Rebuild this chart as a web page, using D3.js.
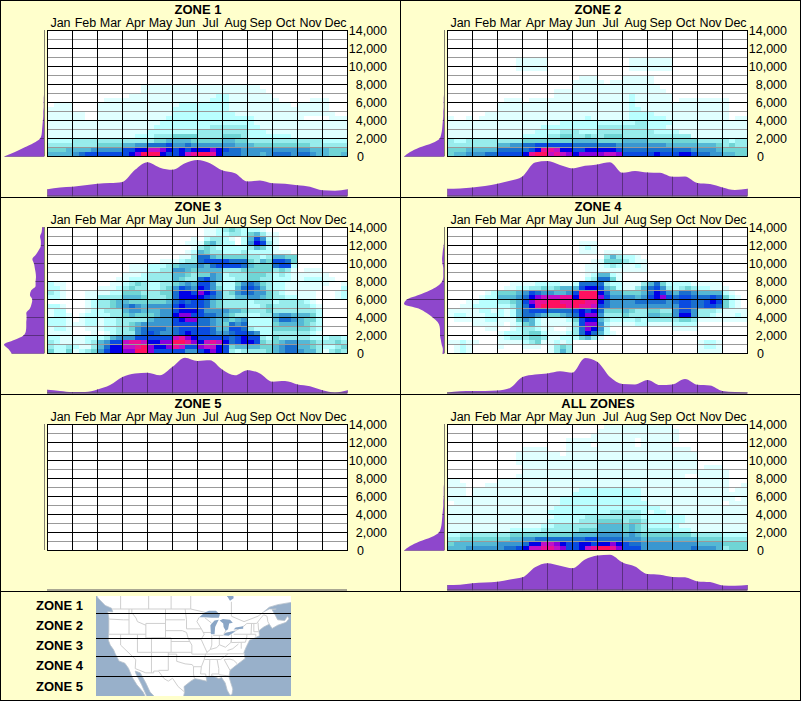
<!DOCTYPE html>
<html><head><meta charset="utf-8">
<script src="https://cdn.jsdelivr.net/npm/d3@7"></script>
<style>html,body{margin:0;padding:0;background:#ffffcc}svg{display:block}text{font-family:"Liberation Sans",Arial,sans-serif;fill:#000}</style>
</head><body><svg id="c" width="801" height="701"></svg>
<script>
// ---------- data ----------
const months = ["Jan","Feb","Mar","Apr","May","Jun","Jul","Aug","Sep","Oct","Nov","Dec"];
const elevTicks = [0,2000,4000,6000,8000,10000,12000,14000];
const zoneNames = ["ZONE 1","ZONE 2","ZONE 3","ZONE 4","ZONE 5","ALL ZONES"];
const legendNames = ["ZONE 1","ZONE 2","ZONE 3","ZONE 4","ZONE 5"];
const zoneLats = [47.8,41.1,35.9,30.3];
// density level per cell: rows from 14,000 ft down to 0, four columns per month
const levelColors = ["#ffffff","#e0ffff","#b9ffff","#98ecec","#70d5d5","#55b8d5","#3a97d0","#1a6fce","#0a4be0","#0000e6","#8a00dc","#c010c8","#e81098","#ff1060"];
const levelKeys = "0123456789abcd".split("");
const zone1Rows = ["","","","","","","","","","","","",
"0000 0000 0000 0001 1111 1111 1111 1111 1100 0000 0000 0000",
"0000 0000 0000 0001 1111 1111 1111 1111 1110 0000 0000 0000",
"0000 0000 0000 0111 1111 1111 1112 2111 1111 0000 0000 0000",
"0000 0000 0111 1111 1111 1111 1122 2111 1111 1000 0011 1000",
"0111 0000 1111 1111 1111 1222 2222 2111 1111 1110 1111 1000",
"1111 0000 1111 1111 1111 2222 2222 2111 1111 1111 1111 1000",
"1111 1100 1111 1111 1111 2222 2222 2211 1111 1111 1111 1100",
"1111 1100 1111 1111 1112 2222 2222 2222 2111 1111 1000 0111",
"1111 1111 1111 1111 1122 2222 2222 2222 2111 1111 1111 1111",
"1111 1111 1111 1111 1222 2222 2233 3333 2211 1111 1111 1111",
"1111 1111 1111 1111 2222 2222 3333 3333 2221 1111 1111 1111",
"1111 1111 1111 1122 2333 4444 3333 4443 2222 2221 1111 1111",
"2222 3333 3333 3333 3445 5554 4444 5544 3333 3333 3333 2222",
"3333 3333 4444 5566 7778 6676 6666 6655 5444 4444 4433 3333",
"4445 5556 6666 8899 bba9 8989 99a9 8776 6666 6666 6655 5444",
"5555 6788 8888 89ad dd98 89bc ddc9 7776 6656 7776 7765 5445"];
const zone2Rows = ["","","","","","",
"0000 0000 0001 1111 0000 0000 0000 0111 1111 0000 0000 0000",
"0000 0000 0001 1111 0000 0000 0000 0111 1111 0000 0000 0000",
"0000 0000 0001 1111 0000 0000 0000 0111 1111 0000 0000 0000",
"",
"0000 0000 0000 0000 0000 0111 0000 1111 1000 0000 0000 0000",
"0000 0000 0000 0000 0000 1111 1011 1111 1000 0000 0000 0000",
"0000 0000 0000 0000 0000 1111 1111 1111 1100 0000 0000 0000",
"0000 0000 0000 0000 0111 1111 1111 1111 1110 0000 0000 0000",
"0000 0000 0000 0000 0111 1111 1111 1211 1111 0000 0000 0000",
"0000 0000 0111 0111 1111 1111 1111 1211 1111 0111 1111 1000",
"0000 0000 1111 1111 1111 1111 1111 1211 1111 1111 1111 1000",
"0000 0000 1111 1111 1111 1111 1111 1221 1111 1111 1111 1000",
"0000 0011 1111 1111 1111 1111 1111 1222 2111 1111 1111 1000",
"1001 0111 1111 1111 1111 1121 1111 1222 2221 1111 1111 1011",
"1111 1111 1111 1111 1122 2222 2222 2233 2222 1111 1111 1111",
"1111 1111 1111 1112 2222 2222 3333 3333 2221 1111 1111 1111",
"1111 1111 1111 1122 2233 3222 3333 3333 3222 2111 1111 1111",
"1111 1111 1111 2222 3344 3343 3444 3333 3333 3331 1111 1111",
"3223 3333 3333 4444 4444 5555 4444 5555 4444 4444 3333 3233",
"3333 3333 5566 7788 8888 7777 7776 6666 6665 5555 5554 3433",
"4445 5555 7777 789c cb99 8899 9998 7777 7777 7776 6665 4444",
"4556 6677 8888 9cdd bcba 9aaa abba 8888 8988 8998 7766 5544"];
const zone3Rows = [
"0000 0000 0000 0000 0000 0000 0112 3432 2210 0000 0000 0000",
"0000 0000 0000 0000 0000 0000 0112 2332 4531 1000 0000 0000",
"0000 0000 0000 0000 0000 0001 0233 2102 5862 1000 0000 0000",
"0000 0000 0000 0000 0000 0011 1453 2202 6983 1000 0000 0000",
"0000 0000 0000 0000 0000 0001 3432 2222 3542 1000 0000 0000",
"0000 0000 0000 0000 0000 0012 5433 2223 2222 1110 0000 0000",
"0000 0000 0000 0000 0000 0113 7754 4444 3323 5544 0000 0000",
"0000 0000 0000 0000 0011 1233 7888 8777 4354 8874 0000 0000",
"0000 0000 0000 0111 2223 4555 6578 8887 5444 7882 0000 0000",
"0000 0000 0000 0111 2233 6654 5555 3334 4444 3431 0111 0000",
"0000 0000 0000 1112 3333 5543 4465 2333 4443 2321 1111 1000",
"0000 0000 0001 1222 3333 5433 7865 2233 4433 2221 1222 1100",
"2110 0000 0011 2343 2233 4565 8863 2246 7643 2211 1111 1001",
"2210 0000 1112 3433 2234 6876 9864 2257 8753 2211 1111 0002",
"3210 0011 1122 4443 3344 7998 a986 3467 7664 3211 1110 0012",
"2210 0011 3333 5554 3334 7999 9876 3355 6654 3322 1110 0012",
"0000 0012 3345 5444 4445 7878 8754 3333 2333 2333 3210 0000",
"2210 0012 3345 6765 6666 8988 8754 3333 2234 3333 3321 0000",
"1220 0012 2333 5665 5566 8999 8666 6554 3334 3333 3332 0000",
"1221 0122 2233 4544 4566 9aa8 8776 5433 2233 5665 5542 0000",
"2221 0122 1223 3333 5666 89aa 7765 5456 2222 5776 5442 0000",
"2221 1122 1223 3456 6666 8888 7765 4767 2222 4555 5432 0000",
"1221 0011 1223 3467 7776 7888 8875 5887 3222 4444 4432 0000",
"1111 0001 0123 3367 8766 7898 8876 6788 7622 3333 3321 0000",
"2211 1122 2356 6688 8888 bca9 8888 8789 8832 4333 3322 2332",
"3211 1123 5688 bccb 99aa ddca 9bcb 9789 9843 4566 5543 3343",
"3223 2113 5799 bbcd a99a cb88 abb9 8455 5544 5677 5543 2234",
"4224 1234 6899 aadd a888 8866 89a9 8323 3334 5677 6553 1343"];
const zone4Rows = ["","","",
"0000 0000 0000 0000 0000 0111 0000 0000 0000 0000 0000 0000",
"0000 0000 0000 0000 0000 0121 0000 0000 0000 0000 0000 0000",
"0000 0000 0000 0000 0000 0111 0111 0000 0000 0000 0000 0000",
"0000 0000 0000 0000 0000 0000 0353 2210 0000 0000 0000 0000",
"0000 0000 0000 0000 0000 0001 1444 3211 0000 0000 0000 0000",
"0000 0000 0000 0000 0000 0011 1232 1121 0000 0000 0000 0000",
"0000 0000 0000 0000 0000 0011 1111 1111 0000 0000 0000 0000",
"0000 0000 0000 0000 0000 0012 5521 0000 0000 0000 0000 0000",
"0000 0000 0000 0000 0000 0023 7741 0000 0000 0000 0000 0000",
"0000 0000 0011 1122 2211 2777 7322 1113 5742 2221 1111 0000",
"0000 0000 0112 2334 3455 5899 8542 1135 7863 2343 2211 1000",
"0000 0012 4445 6876 6556 8ddd 9755 4445 7986 5776 5555 2100",
"0000 0122 5556 79ab bbcc 9ddd a866 6656 89a8 7887 7787 4210",
"0001 1222 3345 8acc ddcc ddcc 9766 6677 7776 7887 7898 4210",
"0011 2222 2235 79cd dddc dccb 8766 6666 6666 6887 7887 4210",
"1111 1221 2125 7888 7777 8989 7444 5433 4433 6886 3332 1111",
"1221 1122 2125 7765 4456 79aa 6333 4333 5544 6996 3321 1121",
"0111 1122 1114 6521 1112 4899 5322 2232 3333 3443 1111 1111",
"0000 1111 1012 4521 1111 38aa 6211 1122 1111 2222 0000 0000",
"0000 0011 0012 3321 1001 37a9 6200 0000 0000 1111 0000 0000",
"0000 0000 1222 3442 1112 3797 5210 0000 0000 0000 0000 0000",
"0000 0000 1233 3443 1122 2453 1000 0000 0000 0000 0000 0000",
"1121 1000 1111 2341 1212 0000 0000 0000 0000 0000 1221 0000",
"0121 0000 1000 1110 1343 0000 0000 0000 0000 0000 1221 0000",
"0121 0000 0000 0000 1353 0000 0000 0000 0000 0000 1111 0000"];
const zone5Rows = [];
const allRows = [
"0000 0000 0000 0000 0000 0000 0111 1111 1111 0000 0000 0000",
"0000 0000 0000 0000 0000 0000 1111 1111 1111 1000 0000 0000",
"0000 0000 0000 0000 0000 0001 1111 1111 1111 1000 0000 0000",
"0000 0000 0000 0000 0001 1111 1111 1101 1111 1000 0000 0000",
"0000 0000 0000 0000 0001 1110 1111 1101 1111 0000 0000 0000",
"0000 0000 0000 1111 0001 1111 1111 1111 1111 1110 0000 0000",
"0000 0000 0001 1111 1101 1111 1111 1111 1111 1111 0000 0000",
"0000 0000 0001 1111 1111 1111 1111 1111 1111 1111 0000 0000",
"0000 0000 0001 1111 1111 1111 1111 1111 1111 1111 0000 0000",
"0000 0000 0000 1111 1111 1111 1111 1111 1111 1111 0111 0000",
"0000 0000 0000 1111 1111 1111 1111 1111 1111 1111 1111 1000",
"0000 0000 0001 1111 1111 1111 1111 1111 1111 1100 1111 1000",
"1100 0000 1111 1111 1111 1111 1111 1111 1111 1111 1111 1000",
"1110 0011 1111 1111 1111 1111 1111 1111 1111 1111 1111 1001",
"1110 1111 1111 1111 1111 1222 2222 2221 1111 1111 1111 1011",
"1110 1111 1111 1111 1111 2222 2222 2221 1111 1111 1111 1111",
"1111 1111 1111 1111 1122 2222 2222 2221 1111 1111 1111 1101",
"0111 1111 1111 1111 1122 2222 2222 2222 1111 1111 1111 0111",
"1111 1111 1111 1111 1222 2222 2222 2222 2211 1111 1111 1111",
"1111 1111 1111 1111 2222 2222 2233 3332 1221 1111 1111 1111",
"1111 1111 1111 1111 1222 2233 3333 3332 2222 2211 1111 1111",
"1111 1111 1111 1111 2222 2333 4444 3443 2222 2211 1111 1111",
"1111 1111 1111 1112 2333 3333 5555 4543 2222 2111 1111 1111",
"1111 1111 1122 2223 3333 3444 5555 4543 3333 2221 1111 1111",
"2233 3333 3344 4444 4444 5555 6666 5654 4444 4443 3333 2222",
"3344 4444 4455 6677 7777 7788 7777 6665 5555 5555 4444 3333",
"4555 5555 6666 799b ba98 8998 99a9 8776 6666 6666 5555 4444",
"5556 6666 6778 9bbc cba8 89bc ddca 8886 6666 6667 6665 3444"];
const heatRows = [zone1Rows,zone2Rows,zone3Rows,zone4Rows,zone5Rows,allRows];

// bottom profile: relative density at every half month
const monthDensity = [
[20,25,27,31,35,37,40,73,94,79,73,91,100,91,71,64,41,44,36,35,31,27,17,16,20],
[21,22,25,29,35,43,55,93,97,86,77,84,88,94,65,70,66,65,54,55,37,34,25,18,21],
[10,7,4,4,11,23,45,55,57,50,73,98,89,91,65,50,64,55,32,34,25,20,9,3,9],
[3,6,7,7,8,15,45,52,55,61,57,97,86,45,26,25,37,23,25,40,24,22,7,4,3],
[0,0,0,0,0,0,0,0,0,0,0,0,0,0,0,0,0,0,0,0,0,0,0,0,0],
[15,16,20,22,24,30,36,64,75,68,61,85,96,98,77,66,45,43,37,36,25,23,14,13,15]];
// side profile: relative density every 500 ft, from 0 up to 14,000
const elevDensity = [
[100,73,50,27,11,7,6,5,4,3,3,2,2,2,1,1,1,1,1,0,0,0,0,0,0,0,0,0,0],
[100,85,62,30,12,8,6,5,4,3,3,2,2,2,1,1,1,1,1,1,1,0,0,0,0,0,0,0,0],
[81,89,100,75,52,46,45,45,44,45,36,32,30,36,33,22,22,21,22,24,26,30,21,14,9,9,11,7,6],
[5,4,7,9,11,11,12,17,29,44,64,100,93,64,37,17,6,3,3,3,5,6,5,4,2,1,1,0,0],
[0,0,0,0,0,0,0,0,0,0,0,0,0,0,0,0,0,0,0,0,0,0,0,0,0,0,0,0,0],
[100,85,62,32,14,9,7,6,5,4,3,3,2,2,2,1,1,1,1,1,1,1,1,0,0,0,0,0,0]];

// inset map outlines as [longitude, latitude]
const landRing = [[-135,56],[-130,54.5],[-128,52],[-125.5,50],[-123.2,49.2],[-122.8,48.2],[-124.6,48.3],[-124.2,46.5],[-124.2,43],[-124.4,40.4],[-123.7,39],[-122.5,37.7],[-121.9,36.6],[-120.6,34.6],[-118.5,34],[-117.2,32.6],[-115.8,30],[-114.2,28],[-112,26],[-110,23],[-110.5,24.5],[-112.5,28],[-114.5,31],[-114.8,31.8],[-113,31.3],[-111,28.5],[-109.5,26],[-107,24],[-105,21],[-97.8,21],[-97.5,25],[-97.2,26],[-97.4,27.5],[-95,29],[-93.5,29.7],[-91,29.3],[-89.3,29],[-89.5,30.2],[-87,30.4],[-85,29.7],[-84,30],[-82.7,28.5],[-82,26.5],[-81,25.1],[-80.3,25.3],[-80,26.8],[-81.3,30],[-81,32],[-79,33.3],[-77.8,34],[-75.6,35.3],[-76,37],[-75.2,38.5],[-74,40.4],[-72,41],[-70.5,41.6],[-70.7,43],[-69,44],[-67,44.8],[-66,43.6],[-64,44.5],[-61,45.3],[-60,46.3],[-60.5,47],[-61.5,45.8],[-64,46],[-65,47.5],[-66,48.8],[-64.5,49],[-67,49],[-69,48.2],[-67,49.5],[-64,50.2],[-58,51],[-50,55],[-50,56],[-135,56]];
const lakeRings = [
[[-92,46.7],[-90,46.7],[-87.5,46.6],[-85,46.6],[-84.6,47.5],[-86,48.5],[-88.5,48.5],[-90,48],[-92,46.7]],
[[-87.8,42],[-86.5,42],[-86.3,44],[-85.4,45.5],[-85,46],[-86.5,45.8],[-87.5,45],[-88,44.5],[-87.8,42]],
[[-84.7,45.8],[-83.4,45],[-83.3,44],[-82.5,43],[-81.7,43.4],[-81.3,45],[-80,45.2],[-81,46],[-83.5,46.2],[-84.7,45.8]],
[[-83.4,41.7],[-81.5,41.6],[-79,42.8],[-80,42.8],[-82.5,42.4],[-83.4,41.7]],
[[-79.7,43.3],[-76.3,43.5],[-76.3,44.2],[-79,43.9],[-79.7,43.3]],
[[-82,54],[-80,54],[-79.7,52],[-81,51.3],[-82,52.5],[-82,54]]];
const borderLines = [
[[-123,49],[-95,49],[-89.5,48]],[[-120,56],[-120,49]],[[-110,56],[-110,49]],[[-102,56],[-102,49]],[[-95,56],[-95,49]],
[[-83.5,46.2],[-82.5,43],[-83.2,42],[-79,43],[-76,44.3],[-75,45],[-71.5,45],[-70,46.5],[-69,47.4],[-67.8,47],[-67.5,45.5],[-67,44.8]],
[[-80.5,51],[-80.5,47],[-76,45.5],[-71,47],[-69,48.2]],
[[-124,46.2],[-119,46],[-117,46]],[[-117,49],[-117,42]],[[-124.2,42],[-111,42]],
[[-116,49],[-116,48],[-114.5,46.5],[-114,45.5],[-111,44.5]],[[-111,45],[-104,45]],[[-111,45],[-111,41],[-104,41]],
[[-114,42],[-114,37],[-109,37],[-109,41]],[[-120,42],[-120,39],[-114.6,35],[-114.8,32.5],[-111,31.3],[-108.2,31.3],[-108.2,31.8],[-106.5,31.8],[-104.5,29.7],[-103,29],[-101.5,29.8],[-99.5,27.5],[-97.2,26]],
[[-109,37],[-109,31.3]],[[-109,41],[-102,41],[-102,37],[-109,37]],[[-103,37],[-103,32],[-106.5,32]],[[-102,37],[-94.6,37]],
[[-103,36.5],[-100,36.5],[-100,34.5],[-97,33.8],[-94.5,33.6],[-94,33],[-94,31],[-93.7,29.7]],
[[-104,46],[-97,46]],[[-104,43],[-98,43],[-96.5,42.5]],[[-102,40],[-95.3,40]],[[-104,49],[-104,41]],[[-97,49],[-96.5,46],[-96.5,43.5]],
[[-96.5,43.5],[-91.2,43.5],[-90.2,42],[-91.3,40.6],[-95.8,40.6],[-96.5,42.5]],[[-95.8,40.6],[-94.6,39],[-94.6,36.5],[-89.7,36.5],[-89.2,37],[-90.2,38.7],[-91.3,40.6]],
[[-92,46.7],[-92.8,45.5],[-91.2,43.5]],[[-90.6,42.5],[-87.8,42.5]],[[-90,46.6],[-87.6,45.1]],[[-87.5,41.7],[-87.5,39],[-88,37.8]],
[[-89.2,37],[-88,37.8],[-85.7,38.3],[-84.8,39.1],[-82.6,38.4],[-80.7,39.7],[-80.5,40.6]],[[-84.8,41.7],[-84.8,39.1]],[[-87,41.7],[-83.4,41.7]],
[[-80.5,42],[-80.5,39.7],[-75.5,39.8],[-75,41.3],[-75,42],[-79.7,42]],[[-75,42],[-73.5,42],[-73.3,45]],[[-72.5,45],[-72.5,42.7],[-71,42.7],[-70.7,43]],[[-73.5,42],[-71.8,42],[-71.8,41.3]],[[-71,45.2],[-70.8,43]],
[[-89.5,36.5],[-81.7,36.6],[-75.9,36.6]],[[-90.2,35],[-84.3,35],[-81.7,36.6]],[[-94,33],[-91.2,33],[-90.2,35],[-89.7,36.5]],[[-91.2,33],[-91.5,31],[-89.7,31],[-89.5,30.2]],
[[-88.2,35],[-88.4,30.3]],[[-85.6,35],[-85,32.5],[-85,31],[-87.5,31],[-87.5,30.3]],[[-85,30.8],[-82,30.5],[-81.4,30.7]],[[-83.1,35],[-81,32]],[[-83.1,35],[-81,35.1],[-79.7,34.8],[-78.5,33.9]],[[-81.9,37.5],[-80,38],[-78,39.3]],[[-77,39.7],[-77,38]]];

// ---------- drawing ----------
const svg = d3.select("#c");
const BG="#ffffcc", PURPLE="#8e47cc", DARK="#5a2f80";
const colorOf = d3.scaleOrdinal(levelKeys, levelColors);
const colX = d3.scaleLinear().domain([0,48]).range([47.5,347.5]);
const rowY = d3.scaleLinear().domain([0,28]).range([30.5,156.5]);
const x = d3.scaleLinear().domain([0,12]).range([47.5,347.5]);
const y = d3.scaleLinear().domain([0,14000]).range([156.5,30.5]);
const sideX = d3.scaleLinear().domain([0,100]).range([44.5,4]);
const botY = d3.scaleLinear().domain([0,100]).range([196.5,160]);
const fmt = d3.format(",");

zoneNames.forEach((name,i)=>{
  const dx = (i%2)*400, dy = Math.floor(i/2)*197;
  const g = svg.append("g").attr("transform",`translate(${dx},${dy})`);
  g.append("text").attr("x",198).attr("y",14).attr("text-anchor","middle").attr("font-size",13).attr("font-weight","bold").text(name);

  // heat cells
  const cells=[];
  heatRows[i].forEach((s,r)=>{
    s.replace(/ /g,"").split("").forEach((k,c)=>{ if(k!=="0") cells.push({r,c,k}); });
  });
  g.append("rect").attr("x",47.5).attr("y",30.5).attr("width",300).attr("height",126).attr("fill","#fff");
  g.append("g").attr("shape-rendering","crispEdges").selectAll("rect").data(cells).join("rect")
    .attr("x",d=>Math.round(colX(d.c))).attr("y",d=>Math.round(rowY(d.r)))
    .attr("width",d=>Math.round(colX(d.c+1))-Math.round(colX(d.c)))
    .attr("height",d=>Math.round(rowY(d.r+1))-Math.round(rowY(d.r)))
    .attr("fill",d=>colorOf(d.k));

  // dotted mid lines
  d3.range(1000,14000,2000).forEach(v=>{
    g.append("line").attr("x1",47.5).attr("x2",347.5).attr("y1",y(v)).attr("y2",y(v)).attr("stroke","#fff");
    g.append("line").attr("x1",47.5).attr("x2",347.5).attr("y1",y(v)).attr("y2",y(v)).attr("stroke","#333").attr("stroke-dasharray","1 1");
  });
  // solid grid
  elevTicks.forEach(v=>g.append("line").attr("x1",47).attr("x2",348).attr("y1",y(v)).attr("y2",y(v)).attr("stroke","#000"));
  d3.range(0,13).forEach(m=>g.append("line").attr("x1",x(m)).attr("x2",x(m)).attr("y1",30).attr("y2",157).attr("stroke","#000"));

  // axes
  const top = d3.axisTop(x).tickValues(d3.range(0.5,12.5,1)).tickSize(0).tickPadding(0).tickFormat(d=>months[Math.floor(d)]);
  const gt = g.append("g").attr("transform","translate(0,27)").attr("font-size",null).call(top);
  gt.select(".domain").remove();
  gt.selectAll("text").attr("font-size",12.5).attr("font-family",null).attr("fill","#000").attr("dy",0);
  const right = d3.axisRight(y).tickValues(elevTicks).tickSize(0).tickPadding(0).tickFormat(fmt);
  const gr = g.append("g").attr("transform","translate(387,0)").attr("font-size",null).call(right);
  gr.select(".domain").remove();
  gr.selectAll("text").attr("font-size",12.5).attr("font-family",null).attr("fill","#000")
    .attr("text-anchor",d=>d===0?"start":"end").attr("x",d=>d===0?-30:0).attr("dy","0.32em");

  // side profile
  const clipS=`s${i}`, clipB=`b${i}`;
  const elevArea = d3.area().curve(d3.curveMonotoneY).y((d,j)=>y(j*500)).x0(sideX(0)).x1(d=>sideX(d));
  const monthArea = d3.area().curve(d3.curveMonotoneX).x((d,j)=>x(j/2)).y0(botY(0)).y1(d=>botY(d));
  g.append("clipPath").attr("id",clipS).append("path").attr("d",elevArea(elevDensity[i]));
  g.append("clipPath").attr("id",clipB).append("path").attr("d",monthArea(monthDensity[i]));
  g.append("path").attr("d",elevArea(elevDensity[i])).attr("fill",PURPLE);
  g.append("path").attr("d",monthArea(monthDensity[i])).attr("fill",PURPLE);
  const sideTicks=g.append("g").attr("clip-path",`url(#${clipS})`);
  elevTicks.forEach(v=>sideTicks.append("line").attr("x1",sideX(100)).attr("x2",sideX(0)).attr("y1",y(v)).attr("y2",y(v)).attr("stroke",DARK));
  const botTicks=g.append("g").attr("clip-path",`url(#${clipB})`);
  d3.range(0,13).forEach(m=>botTicks.append("line").attr("x1",x(m)).attr("x2",x(m)).attr("y1",botY(100)).attr("y2",botY(0)).attr("stroke",DARK));
  g.append("line").attr("x1",44.5).attr("x2",44.5).attr("y1",30).attr("y2",156).attr("stroke","#807f70");
  g.append("line").attr("x1",47).attr("x2",347).attr("y1",196).attr("y2",196).attr("stroke","#55505a");
});

// frame
[197,394,591].forEach(v=>svg.append("line").attr("x1",0).attr("x2",801).attr("y1",v+0.5).attr("y2",v+0.5).attr("stroke","#000"));
svg.append("line").attr("x1",400.5).attr("x2",400.5).attr("y1",0).attr("y2",591).attr("stroke","#000");
svg.append("rect").attr("x",0.5).attr("y",0.5).attr("width",800).attr("height",700).attr("fill","none").attr("stroke","#000");

// inset map
const lonX = d3.scaleLinear().domain([-97.4,-81]).range([184,230]);
const latY = d3.scaleLinear().domain([49,25]).range([609,695.6]);
const proj = d3.geoTransform({point(lon,lat){this.stream.point(lonX(lon),latY(lat));}});
const geoP = d3.geoPath(proj);
const mg = svg.append("g");
svg.append("clipPath").attr("id","mapclip").append("rect").attr("x",96).attr("y",596).attr("width",195).attr("height",100);
mg.attr("clip-path","url(#mapclip)");
mg.append("rect").attr("x",96).attr("y",596).attr("width",195).attr("height",100).attr("fill","#98b0ca");
const ringPath = r=>"M"+r.map(p=>[lonX(p[0]),latY(p[1])].join(",")).join("L")+"Z";
mg.append("path").attr("d",ringPath(landRing)).attr("fill","#fff").attr("stroke","#b8c2cc").attr("stroke-width",0.8);
mg.append("path").attr("d",geoP({type:"MultiLineString",coordinates:borderLines})).attr("fill","none").attr("stroke","#cfcfcf").attr("stroke-width",1);
mg.append("g").selectAll("path").data(lakeRings).join("path").attr("d",ringPath).attr("fill","#8aa6c6");
zoneLats.forEach(l=>mg.append("line").attr("x1",96).attr("x2",291).attr("y1",Math.round(latY(l))+0.5).attr("y2",Math.round(latY(l))+0.5).attr("stroke","#000"));
const legendY = d3.scalePoint().domain(legendNames).range([610,690.5]);
svg.append("g").selectAll("text").data(legendNames).join("text")
  .attr("x",83).attr("y",d=>legendY(d)).attr("text-anchor","end").attr("font-size",13).attr("font-weight","bold").text(d=>d);
</script></body></html>
